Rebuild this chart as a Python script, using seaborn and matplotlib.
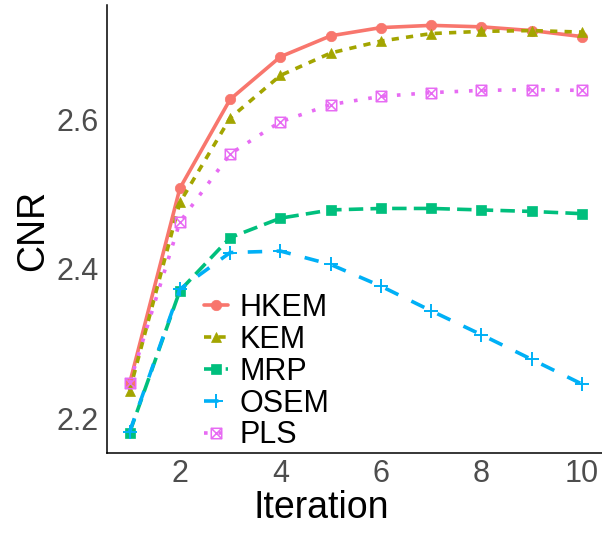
import numpy as np
import pandas as pd
import matplotlib
matplotlib.use("Agg")
import matplotlib.pyplot as plt
import seaborn as sns
from matplotlib.path import Path

# ---------------- data ----------------
iterations = [1, 2, 3, 4, 5, 6, 7, 8, 9, 10]
methods = ["HKEM", "KEM", "MRP", "OSEM", "PLS"]
hkem = [2.247, 2.508, 2.627, 2.684, 2.712, 2.723, 2.726, 2.724, 2.719, 2.711]
kem = [2.237, 2.489, 2.602, 2.659, 2.689, 2.705, 2.715, 2.718, 2.719, 2.717]
mrp = [2.181, 2.371, 2.442, 2.468, 2.479, 2.481, 2.481, 2.479, 2.477, 2.474]
osem = [2.182, 2.373, 2.422, 2.424, 2.406, 2.377, 2.344, 2.312, 2.279, 2.246]
pls = [2.247, 2.463, 2.554, 2.597, 2.620, 2.631, 2.636, 2.639, 2.640, 2.639]
x_ticks = [2, 4, 6, 8, 10]
x_ticklabels = ["2", "4", "6", "8", "10"]
y_ticks = [2.2, 2.4, 2.6]
y_ticklabels = ["2.2", "2.4", "2.6"]

series = {"HKEM": hkem, "KEM": kem, "MRP": mrp, "OSEM": osem, "PLS": pls}
df = pd.DataFrame(
    [(m, it, v) for m in methods for it, v in zip(iterations, series[m])],
    columns=["Method", "Iteration", "CNR"],
)

# ---------------- styles ----------------
colors = {"HKEM": "#F8766D", "KEM": "#A3A500", "MRP": "#00BF7D",
          "OSEM": "#00B0F6", "PLS": "#E76BF3"}
boxx = Path(
    [(-1, -1), (1, -1), (1, 1), (-1, 1), (-1, -1), (-1, -1), (1, 1), (-1, 1), (1, -1)],
    [Path.MOVETO, Path.LINETO, Path.LINETO, Path.LINETO, Path.CLOSEPOLY,
     Path.MOVETO, Path.LINETO, Path.MOVETO, Path.LINETO],
)
markers = {"HKEM": "o", "KEM": "^", "MRP": "s", "OSEM": "+", "PLS": boxx}
msizes = {"HKEM": 7.5, "KEM": 7.5, "MRP": 6.5, "OSEM": 10, "PLS": 7.5}
mews = {"HKEM": 0.5, "KEM": 0.5, "MRP": 0.5, "OSEM": 1.4, "PLS": 1.1}
mfcs = {"HKEM": None, "KEM": None, "MRP": None, "OSEM": None, "PLS": "none"}
dashes = {"HKEM": "solid", "KEM": (0, (2, 2)), "MRP": (0, (4, 2)),
          "OSEM": (0, (4, 4)), "PLS": (0, (1, 3))}

sns.set_theme(style="white")
plt.rcParams["font.family"] = ["Liberation Sans", "DejaVu Sans"]
plt.rcParams["text.color"] = "black"

W, H = 602, 536
fig = plt.figure(figsize=(W / 100, H / 100), dpi=100)
left_px, right_px, top_px, bot_px = 107, 604.6, 5, 453
ax = fig.add_axes([left_px / W, 1 - bot_px / H,
                   (right_px - left_px) / W, (bot_px - top_px) / H])

for m in methods:
    sub = df[df["Method"] == m]
    kws = dict(color=colors[m], marker=markers[m], linestyle=dashes[m],
               lw=2.6, ms=msizes[m], mec=colors[m], mew=mews[m])
    if mfcs[m] is not None:
        kws["mfc"] = mfcs[m]
    sns.lineplot(data=sub, x="Iteration", y="CNR", ax=ax, legend=False,
                 errorbar=None, **kws)

# ggplot-like expansion
xr = max(iterations) - min(iterations)
ax.set_xlim(min(iterations) - 0.05 * xr, max(iterations) + 0.05 * xr)
allv = df["CNR"]
yr = allv.max() - allv.min()
ax.set_ylim(allv.min() - 0.05 * yr, allv.max() + 0.05 * yr)

ax.set_xticks(x_ticks)
ax.set_xticklabels(x_ticklabels)
ax.set_yticks(y_ticks)
ax.set_yticklabels(y_ticklabels)
ax.tick_params(axis="both", labelsize=22, labelcolor="#4D4D4D", color="#333333",
               length=3, width=1.0, direction="out")
ax.tick_params(axis="x", pad=1)
ax.tick_params(axis="y", pad=3)
for s in ["top", "right"]:
    ax.spines[s].set_visible(False)
for s in ["left", "bottom"]:
    ax.spines[s].set_color("black")
    ax.spines[s].set_linewidth(1.1)
ax.grid(False)
ax.set_facecolor("white")

ax.set_xlabel("Iteration", fontsize=27, color="black")
ax.set_ylabel("CNR", fontsize=27, color="black")
wpx = right_px - left_px
hpx = bot_px - top_px
ax.xaxis.set_label_coords((321 - left_px) / wpx, -(490 - bot_px) / hpx)
ax.yaxis.set_label_coords((51 - left_px) / wpx, (bot_px - 230) / hpx)

handles = list(ax.lines)
leg = fig.legend(handles, methods, loc="upper left",
                 bbox_to_anchor=(204 / W, 1 - 293 / H), frameon=False,
                 fontsize=22, handlelength=0.8, handletextpad=0.35,
                 labelspacing=0.06, borderpad=0, borderaxespad=0,
                 labelcolor="black")

fig.savefig("out.png", dpi=100, facecolor="white")
